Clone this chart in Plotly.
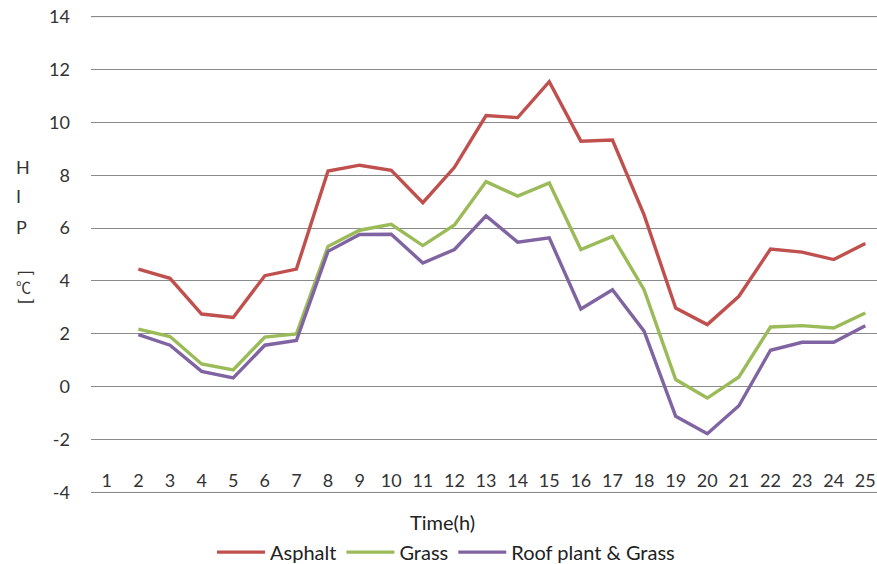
import plotly.graph_objects as go

hours = list(range(1, 26))
x_labels = [str(h) for h in hours]

y_ticks = [-4, -2, 0, 2, 4, 6, 8, 10, 12, 14]
y_labels = ["-4", "-2", "0", "2", "4", "6", "8", "10", "12", "14"]

asphalt = [None, 4.45, 4.1, 2.75, 2.62, 4.2, 4.45, 8.16, 8.38, 8.19, 6.96, 8.3,
           10.26, 10.18, 11.54, 9.29, 9.33, 6.5, 2.98, 2.35, 3.42, 5.21, 5.09, 4.81, 5.42]
grass = [None, 2.18, 1.9, 0.86, 0.64, 1.88, 2.0, 5.31, 5.92, 6.14, 5.34, 6.12,
         7.76, 7.21, 7.71, 5.19, 5.69, 3.67, 0.27, -0.43, 0.37, 2.26, 2.31, 2.22, 2.79]
roof = [None, 1.97, 1.57, 0.58, 0.33, 1.57, 1.75, 5.12, 5.76, 5.77, 4.68, 5.19,
        6.46, 5.47, 5.63, 2.94, 3.67, 2.1, -1.12, -1.78, -0.72, 1.38, 1.68, 1.68, 2.31]

series = [("Asphalt", asphalt, "#C0504D"),
          ("Grass", grass, "#9BBB59"),
          ("Roof plant & Grass", roof, "#8064A2")]

FONT = "Lato, 'Open Sans', sans-serif"
GRID = "#8a8a8a"

fig = go.Figure()
for name, vals, col in series:
    fig.add_trace(go.Scatter(x=hours, y=vals, name=name, mode="lines",
                             line=dict(color=col, width=3.4)))

fig.update_layout(
    width=877, height=564,
    margin=dict(l=91, r=0, t=14, b=66),
    plot_bgcolor="white", paper_bgcolor="white",
    font=dict(family=FONT, size=18, color="#404040"),
    showlegend=True,
    legend=dict(orientation="h", x=(212 - 91) / 786, xref="paper", xanchor="left",
                yref="container", y=0.021, yanchor="middle", itemwidth=48,
                font=dict(size=20, color="#222222"), traceorder="normal"),
    xaxis=dict(range=[0.5, 25.37], tickmode="array", tickvals=hours, ticktext=x_labels,
               showgrid=False, zeroline=False, showline=False, ticks="", automargin=False,
               anchor="free", position=0.063,
               tickfont=dict(size=18, color="#333333")),
    yaxis=dict(range=[-4.21, 14.1], tickmode="array", tickvals=y_ticks, ticktext=y_labels,
               showgrid=True, gridcolor=GRID, automargin=False,
               gridwidth=1, zeroline=False, showline=False, ticks="",
               ticklabelstandoff=20, tickfont=dict(size=18, color="#333333")),
)
# make sure the outermost gridlines (at the range ends) are drawn
for yv in (y_ticks[0], y_ticks[-1]):
    fig.add_hline(y=yv, line=dict(color=GRID, width=1), layer="below")

ax_x = -0.098
ann = [
    dict(text="Time(h)", x=0.4466, y=-0.0498, xref="paper", yref="paper",
         xanchor="center", yanchor="middle", showarrow=False, font=dict(size=20, color="#222222")),
    dict(text="H", x=ax_x, y=8.33, xref="paper", yref="y", showarrow=False,
         font=dict(size=18, color="#333333")),
    dict(text="I", x=ax_x, y=7.23, xref="paper", yref="y", showarrow=False,
         font=dict(size=18, color="#333333")),
    dict(text="P", x=ax_x, y=6.06, xref="paper", yref="y", showarrow=False,
         font=dict(size=18, color="#333333")),
    dict(text="[", x=ax_x, y=4.3, xref="paper", yref="y", showarrow=False, textangle=90,
         font=dict(size=18, color="#333333")),
    dict(text="℃", x=ax_x, y=3.78, xref="paper", yref="y", showarrow=False,
         font=dict(size=15, color="#333333", family="'Noto Sans CJK SC', sans-serif")),
    dict(text="]", x=ax_x, y=3.22, xref="paper", yref="y", showarrow=False, textangle=90,
         font=dict(size=18, color="#333333")),
]
fig.update_layout(annotations=ann)

fig.write_html("out.html", config={"displayModeBar": False},
               post_script="document.body.style.margin='0';document.body.style.overflow='hidden';")
